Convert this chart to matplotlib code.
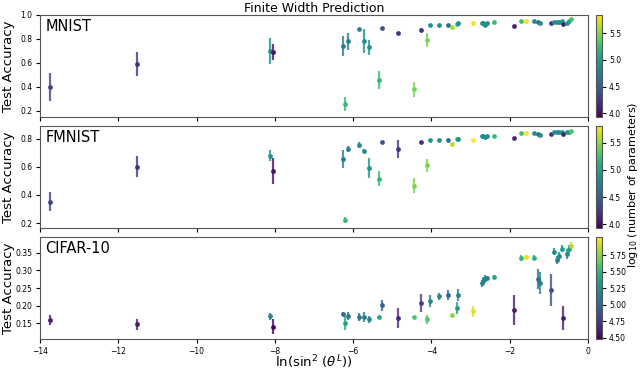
import numpy as np
import matplotlib
matplotlib.use("Agg")
import matplotlib.pyplot as plt
from matplotlib.colors import Normalize
from matplotlib.cm import ScalarMappable

# ln(sin^2(theta^L)) for each trained network
ln_sin2 = [-13.74, -11.53, -8.12, -8.04, -6.25, -6.22, -6.14, -5.84, -5.71, -5.59,
           -5.34, -5.27, -4.85, -4.45, -4.26, -4.11, -4.04, -3.81, -3.58, -3.48,
           -3.34, -3.33, -2.94, -2.71, -2.67, -2.63, -2.59, -2.39, -1.90, -1.70,
           -1.59, -1.38, -1.27, -1.23, -0.95, -0.87, -0.80, -0.73, -0.67, -0.64,
           -0.53, -0.49, -0.44]

# log10(number of parameters)
logp_mnist = [4.3, 4.2, 4.9, 4.0, 4.7, 5.2, 4.75, 4.8, 4.85, 4.9,
              5.2, 4.4, 4.2, 5.45, 4.2, 5.45, 4.9, 4.9, 4.6, 5.6,
              5.25, 4.9, 5.8, 4.85, 4.85, 4.85, 4.85, 5.2, 4.1, 5.25,
              5.8, 4.85, 4.6, 4.85, 4.2, 4.85, 4.85, 4.85, 5.0, 4.1,
              4.85, 5.0, 5.3]
logp_cifar = [4.6, 4.6, 5.15, 4.5, 5.0, 5.4, 5.1, 5.1, 5.15, 5.2,
              5.4, 4.95, 4.65, 5.6, 4.75, 5.6, 5.2, 5.2, 5.0, 5.75,
              5.35, 5.15, 5.95, 5.15, 5.15, 5.15, 5.15, 5.4, 4.6, 5.5,
              5.95, 5.45, 5.05, 5.15, 4.85, 5.2, 5.15, 5.2, 5.35, 4.6,
              5.2, 5.35, 5.85]

acc_mnist = [0.40, 0.59, 0.70, 0.69, 0.74, 0.26, 0.78, 0.88, 0.78, 0.73,
             0.46, 0.89, 0.85, 0.38, 0.875, 0.79, 0.92, 0.92, 0.92, 0.90,
             0.925, 0.93, 0.93, 0.93, 0.93, 0.915, 0.93, 0.94, 0.91, 0.95,
             0.95, 0.95, 0.94, 0.935, 0.93, 0.945, 0.945, 0.945, 0.95, 0.925,
             0.935, 0.95, 0.965]
err_mnist = [0.12, 0.10, 0.105, 0.065, 0.083, 0.06, 0.074, 0.01, 0.10, 0.063,
             0.076, 0.01, 0.01, 0.063, 0.02, 0.06, 0.008, 0.008, 0.008, 0.015,
             0.01, 0.008, 0.005, 0.005, 0.005, 0.008, 0.005, 0.005, 0.008, 0.005,
             0.005, 0.005, 0.006, 0.006, 0.006, 0.005, 0.005, 0.005, 0.005, 0.008,
             0.006, 0.005, 0.005]

acc_fmnist = [0.352, 0.60, 0.68, 0.57, 0.655, 0.22, 0.726, 0.755, 0.714, 0.59,
              0.514, 0.774, 0.726, 0.467, 0.774, 0.61, 0.793, 0.793, 0.793, 0.762,
              0.80, 0.795, 0.79, 0.817, 0.82, 0.815, 0.817, 0.817, 0.807, 0.838,
              0.838, 0.838, 0.83, 0.828, 0.83, 0.845, 0.845, 0.845, 0.848, 0.83,
              0.85, 0.85, 0.852]
err_fmnist = [0.068, 0.076, 0.038, 0.089, 0.065, 0.02, 0.02, 0.02, 0.015, 0.07,
              0.054, 0.008, 0.062, 0.056, 0.008, 0.048, 0.006, 0.006, 0.006, 0.015,
              0.01, 0.006, 0.005, 0.006, 0.006, 0.006, 0.006, 0.005, 0.006, 0.005,
              0.005, 0.005, 0.006, 0.006, 0.006, 0.005, 0.005, 0.005, 0.005, 0.006,
              0.005, 0.005, 0.005]

acc_cifar = [0.159, 0.147, 0.169, 0.140, 0.176, 0.150, 0.170, 0.167, 0.167, 0.161,
             0.167, 0.201, 0.164, 0.167, 0.207, 0.161, 0.213, 0.227, 0.230, 0.173,
             0.193, 0.230, 0.184, 0.264, 0.270, 0.276, 0.279, 0.281, 0.187, 0.336,
             0.339, 0.336, 0.276, 0.264, 0.244, 0.353, 0.330, 0.341, 0.361, 0.164,
             0.347, 0.361, 0.370]
err_cifar = [0.014, 0.016, 0.010, 0.021, 0.005, 0.020, 0.012, 0.012, 0.014, 0.010,
             0.004, 0.016, 0.029, 0.004, 0.025, 0.012, 0.018, 0.010, 0.015, 0.004,
             0.018, 0.017, 0.016, 0.010, 0.012, 0.010, 0.006, 0.006, 0.043, 0.008,
             0.004, 0.007, 0.029, 0.032, 0.046, 0.010, 0.012, 0.012, 0.010, 0.034,
             0.015, 0.012, 0.010]

panels = [
    ("MNIST", acc_mnist, err_mnist, logp_mnist, (0.15, 1.0), np.arange(0.2, 1.01, 0.2),
     (3.93, 5.84), [4.0, 4.5, 5.0, 5.5], "%.1f"),
    ("FMNIST", acc_fmnist, err_fmnist, logp_mnist, (0.165, 0.89), np.arange(0.2, 0.81, 0.2),
     (3.93, 5.81), [4.0, 4.5, 5.0, 5.5], "%.1f"),
    ("CIFAR-10", acc_cifar, err_cifar, logp_cifar, (0.105, 0.395), np.arange(0.15, 0.36, 0.05),
     (4.48, 6.03), [4.5, 4.75, 5.0, 5.25, 5.5, 5.75], "%.2f"),
]

W, H = 640, 370
fig = plt.figure(figsize=(6.4, 3.7), dpi=100)
cmap = plt.get_cmap("viridis")

tops = [15, 126, 237]
ph = 102
axes = []
for k, (name, acc, err, logp, ylim, yticks, clim, cticks, cfmt) in enumerate(panels):
    top = tops[k]
    ax = fig.add_axes([40 / W, (H - top - ph) / H, 548 / W, ph / H])
    cax = fig.add_axes([596 / W, (H - top - ph) / H, 6 / W, ph / H])
    norm = Normalize(vmin=clim[0], vmax=clim[1])
    for xi, yi, ei, pi in zip(ln_sin2, acc, err, logp):
        c = cmap(norm(pi))
        ax.errorbar(xi, yi, yerr=ei, fmt="o", color=c, ms=2.4,
                    elinewidth=1.6, ecolor=(c[0], c[1], c[2], 0.8), capsize=0)
    ax.set_xlim(-14, 0)
    ax.set_ylim(*ylim)
    ax.set_yticks(yticks)
    ax.set_xticks(np.arange(-14, 0.1, 2))
    ax.tick_params(labelsize=5.5, length=3, pad=2.5)
    ax.set_ylabel("Test Accuracy", fontsize=9.5)
    ax.yaxis.set_label_coords(-0.046, 0.5)
    ax.text(0.01, 0.96, name, transform=ax.transAxes, fontsize=10.5, va="top", ha="left")
    for sp in ax.spines.values():
        sp.set_color("#555555")
    if k < 2:
        ax.set_xticklabels([])
    else:
        ax.set_xticklabels(["\u221214", "\u221212", "\u221210", "\u22128", "\u22126", "\u22124", "\u22122", "0"])
        ax.set_xlabel(r"ln(sin$^2$ ($\theta^L$))", fontsize=9.5)
        ax.xaxis.set_label_coords(0.5, -0.145)
    ax.set_yticklabels([("%.2f" % t) if k == 2 else ("%.1f" % t) for t in yticks])

    sm = ScalarMappable(norm=norm, cmap=cmap)
    cb = fig.colorbar(sm, cax=cax, ticks=cticks, format=cfmt)
    cb.ax.tick_params(labelsize=5.5, length=3, pad=2)
    cb.outline.set_edgecolor("#555555")
    axes.append(ax)

axes[0].set_title("Finite Width Prediction", fontsize=9, pad=1.5)
fig.text(633.5 / W, 0.5, r"log$_{10}$ (number of parameters)", rotation=90,
         ha="center", va="center", fontsize=8)

fig.savefig("out.png", dpi=100)
